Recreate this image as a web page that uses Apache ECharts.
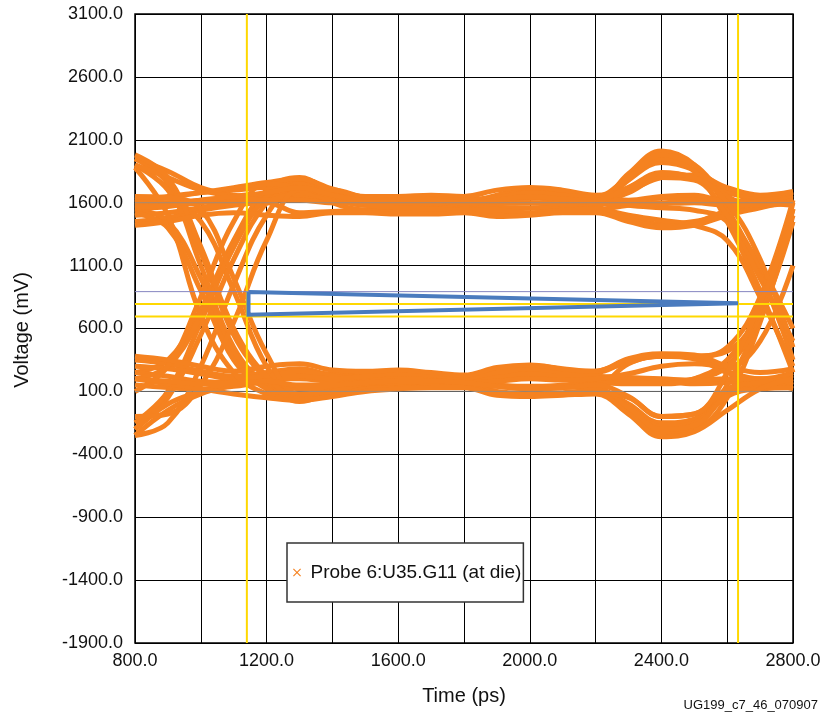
<!DOCTYPE html>
<html>
<head>
<meta charset="utf-8">
<script src="https://cdn.jsdelivr.net/npm/echarts@6/dist/echarts.min.js"></script>
<style>
html,body{margin:0;padding:0;background:#fff;}
#chart{width:820px;height:717px;}
</style>
</head>
<body>
<div id="chart"></div>
<script>
// Time samples (ps)
const timePs = [800,900,1000,1100,1200,1300,1400,1500,1600,1700,1800,1900,2000,2100,2200,2300,2400,2500,2600,2700,2800];
// Eye-diagram traces (mV), one value per time sample
const trace01 = [1550,1570,1600,1620,1640,1650,1620,1600,1600,1610,1600,1620,1640,1620,1610,1610,1600,1620,1600,1590,1620];
const trace02 = [1450,1480,1540,1580,1600,1520,1530,1540,1540,1530,1530,1510,1510,1530,1540,1480,1430,1450,1520,1600,1660];
const trace03 = [1950,1850,1720,1660,1640,1700,1650,1620,1620,1620,1590,1600,1600,1580,1590,1830,2010,1900,1550,1050,350];
const trace04 = [1620,1650,1680,1700,1720,1700,1640,1580,1580,1560,1560,1560,1560,1560,1570,1780,1920,1860,1700,1620,1640];
const trace05 = [1950,1750,1100,450,150,30,90,130,140,140,150,100,80,90,100,-50,-230,-200,50,650,1500];
const trace06 = [1550,1450,1000,400,150,60,160,180,190,190,180,200,220,200,190,190,180,160,170,200,150];
const trace07 = [1600,1600,1450,900,300,50,120,140,150,160,160,140,120,130,140,320,380,380,420,750,1550];
const trace08 = [-200,50,550,1150,1600,1780,1700,1640,1630,1640,1620,1650,1700,1680,1650,1800,1950,1850,1450,900,250];
const trace09 = [250,350,750,1300,1700,1800,1680,1620,1620,1620,1610,1640,1690,1660,1620,1580,1560,1540,1450,1000,500];
const trace10 = [-250,-150,300,950,1500,1750,1680,1620,1610,1610,1600,1620,1660,1640,1600,1720,1840,1800,1680,1640,1600];
const trace11 = [250,220,180,170,200,200,180,190,200,200,190,200,220,200,140,0,-150,-120,80,150,180];
const trace12 = [150,130,120,140,170,120,130,150,160,170,170,150,130,140,250,330,390,370,260,200,250];
const trace13 = [-250,-50,80,150,200,250,240,250,260,240,220,280,300,270,120,-20,-180,-150,150,700,1600];
const trace14 = [350,320,260,220,250,280,230,220,220,210,200,240,260,250,200,180,170,200,300,700,1450];
const trace15 = [1580,1600,1620,1640,1650,1660,1630,1610,1610,1620,1610,1630,1650,1630,1560,1500,1460,1420,1300,850,300];
const trace16 = [1900,1700,1200,550,200,20,100,180,240,230,210,260,290,260,250,340,380,360,250,190,230];
const trace17 = [-150,100,650,1250,1650,1750,1600,1540,1530,1530,1530,1520,1520,1530,1540,1580,1590,1600,1580,1600,1640];
const trace18 = [300,280,240,200,220,260,220,210,210,200,190,220,240,230,220,210,200,190,200,180,120];
const trace19 = [1500,1520,1560,1600,1620,1620,1600,1600,1600,1590,1580,1590,1600,1590,1590,1600,1640,1640,1620,1600,1580];
const trace20 = [1520,1400,900,350,120,40,100,140,150,150,150,90,70,80,120,-30,-200,-170,60,120,130];
const trace21 = [200,300,700,1250,1650,1790,1700,1640,1620,1630,1600,1660,1710,1690,1640,1800,1980,1900,1650,1580,1620];
const trace22 = [-200,0,100,180,220,220,200,220,240,230,210,250,280,260,260,350,390,380,450,850,1620];
const trace23 = [1900,1800,1700,1650,1620,1680,1620,1580,1560,1550,1540,1540,1520,1540,1550,1470,1410,1440,1540,1620,1680];
const trace24 = [1980,1800,1250,600,220,50,110,160,170,170,170,150,140,150,170,160,160,200,350,750,1550];
const trace25 = [1600,1640,1680,1720,1760,1790,1710,1650,1650,1660,1650,1700,1720,1700,1660,1700,1800,1820,1720,1660,1690];
const trace26 = [1420,1450,1500,1520,1500,1490,1520,1520,1510,1510,1520,1490,1500,1520,1520,1450,1400,1420,1500,1560,1620];
const trace27 = [1880,1500,700,250,80,40,80,120,130,140,140,80,70,80,90,50,-100,-80,120,170,200];
const trace28 = [100,300,850,1450,1750,1720,1650,1600,1600,1600,1590,1610,1640,1620,1600,1680,1800,1780,1500,1100,600];
const trace29 = [1650,1640,1550,1000,400,80,100,160,170,180,170,180,200,190,200,240,300,320,300,500,1100];
const trace30 = [-100,-80,150,650,1300,1700,1700,1640,1620,1630,1620,1640,1680,1660,1640,1620,1650,1660,1600,1580,1600];
const trace31 = [200,160,120,80,50,30,60,100,120,130,130,70,60,70,80,-80,-260,-220,-50,120,200];
const trace32 = [380,350,300,260,300,320,270,260,270,250,230,290,310,280,260,360,400,390,300,250,280];
const trace33 = [1560,1580,1620,1650,1680,1720,1660,1620,1620,1620,1600,1620,1650,1630,1620,1720,1830,1800,1600,1150,450];
const trace34 = [200,180,160,160,180,150,150,170,180,180,170,140,120,130,150,60,-100,-80,250,800,1450];
const traces = [trace01,trace02,trace03,trace04,trace05,trace06,trace07,trace08,trace09,trace10,trace11,trace12,
                trace13,trace14,trace15,trace16,trace17,trace18,trace19,trace20,trace21,trace22,trace23,trace24,
                trace25,trace26,trace27,trace28,trace29,trace30,trace31,trace32,trace33,trace34];

// Cursors, levels and eye mask
const cursorTimes = [1140, 2633];
const levelLines = [795, 695];
const refLevel = 893;
const greyLevels = [1600, 100];
const maskTime = [1145, 2633, 1145, 1145];
const maskVolt = [890, 800, 710, 890];

// Axis ranges and labels
const xMin = 800, xMax = 2800, xStep = 200, xLabelStep = 400;
const yMin = -1900, yMax = 3100, yStep = 500;
const legendName = 'Probe 6:U35.G11 (at die)';
const xTitle = 'Time (ps)';
const yTitle = 'Voltage (mV)';
const footNote = 'UG199_c7_46_070907';

const FONT = '"Liberation Sans", Arial, Helvetica, sans-serif';
const ORANGE = '#F58220';
const YELLOW = '#FFD800';
const BLUE = '#4A7BBE';

const chart = echarts.init(document.getElementById('chart'), null, {renderer:'canvas'});

const series = traces.map(tr => ({
  type:'line', name: legendName,
  data: timePs.map((t,i)=>[t, tr[i]]),
  smooth: 0.4, showSymbol:false, silent:true, z:2,
  lineStyle:{color:ORANGE, width:5},
  itemStyle:{color:ORANGE}
}));

greyLevels.forEach(v => series.push({
  type:'line', name:'grey'+v, silent:true, showSymbol:false, z:3,
  data:[[xMin,v],[xMax,v]],
  lineStyle:{color:'rgba(140,140,140,0.8)', width:1}
}));
levelLines.forEach(v => series.push({
  type:'line', name:'lvl'+v, silent:true, showSymbol:false, z:4,
  data:[[xMin,v],[xMax,v]],
  lineStyle:{color:YELLOW, width:2}
}));
cursorTimes.forEach(t => series.push({
  type:'line', name:'cur'+t, silent:true, showSymbol:false, z:4,
  data:[[t,yMin],[t,yMax]],
  lineStyle:{color:YELLOW, width:2}
}));
series.push({
  type:'line', name:'ref', silent:true, showSymbol:false, z:5,
  data:[[xMin,refLevel],[xMax,refLevel]],
  lineStyle:{color:'#8585C0', width:1}
});
series.push({
  type:'line', name:'mask', silent:true, showSymbol:false, z:6,
  data: maskTime.map((t,i)=>[t, maskVolt[i]]),
  lineStyle:{color:BLUE, width:4, join:'miter'}
});

const option = {
  animation:false,
  backgroundColor:'#fff',
  textStyle:{fontFamily:FONT},
  grid:{left:135, right:27, top:14, bottom:74, outerBoundsMode:'none', containLabel:false,
        show:true, borderColor:'#000', borderWidth:1.5, backgroundColor:'transparent'},
  xAxis:{
    type:'value', min:xMin, max:xMax, interval:xStep,
    axisLine:{show:false}, axisTick:{show:false},
    splitLine:{show:true, lineStyle:{color:'#000', width:1}},
    axisLabel:{margin:9, color:'#111', fontSize:18, fontFamily:FONT,
      formatter: v => ((v - xMin) % xLabelStep === 0) ? v.toFixed(1) : ''}
  },
  yAxis:{
    type:'value', min:yMin, max:yMax, interval:yStep,
    axisLine:{show:false}, axisTick:{show:false},
    splitLine:{show:true, lineStyle:{color:'#000', width:1}},
    axisLabel:{margin:12, color:'#111', fontSize:18, fontFamily:FONT,
      formatter: v => v.toFixed(1)}
  },
  legend:{
    data:[{name:legendName, icon:'path://M0,1L1,0L5,4L9,0L10,1L6,5L10,9L9,10L5,6L1,10L0,9L4,5Z', itemStyle:{color:ORANGE}}],
    left:287, top:543, orient:'vertical',
    itemWidth:11, itemHeight:8, itemGap:0,
    padding:[20,2,20,6],
    backgroundColor:'#fff', borderColor:'#333', borderWidth:1.5,
    textStyle:{fontSize:19, color:'#111', fontFamily:FONT, padding:[0,0,0,3]},
    selectedMode:false
  },
  graphic:[
    {type:'text', x:464, y:696, style:{text:xTitle, font:'20px '+FONT, fill:'#111', align:'center', verticalAlign:'middle'}},
    {type:'text', x:22, y:330, rotation:Math.PI/2, style:{text:yTitle, font:'20px '+FONT, fill:'#111', align:'center', verticalAlign:'middle'}},
    {type:'text', right:2, top:699, style:{text:footNote, font:'13px '+FONT, fill:'#111'}}
  ],
  series: series
};
chart.setOption(option);
</script>
</body>
</html>
